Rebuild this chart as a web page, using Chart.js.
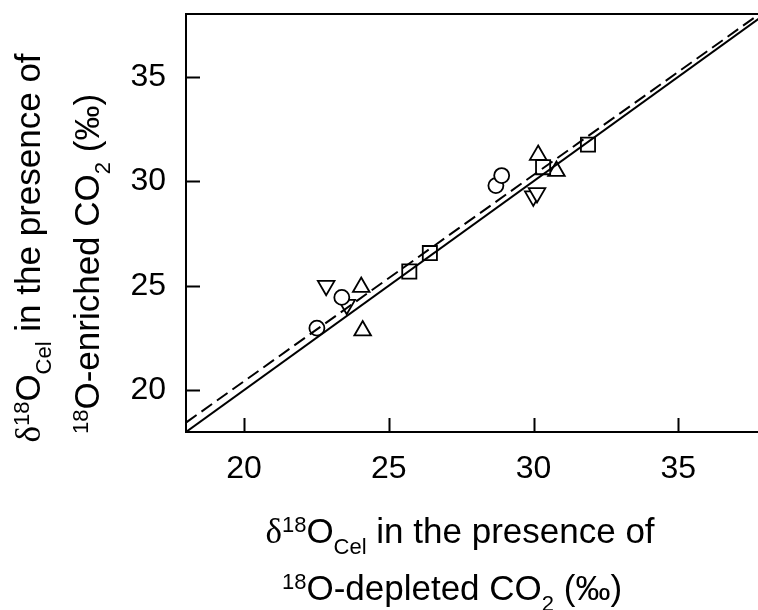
<!DOCTYPE html>
<html>
<head>
<meta charset="utf-8">
<script src="https://cdn.jsdelivr.net/npm/chart.js@4/dist/chart.umd.min.js"></script>
<style>
  html, body { margin: 0; padding: 0; background: #fff; overflow: hidden; }
  #wrap { position: relative; width: 758px; height: 610px; }
</style>
</head>
<body>
<div id="wrap"><canvas id="chart-0" width="758" height="610"></canvas></div>
<script>
// data (x = depleted CO2, y = enriched CO2)
var circleX = [22.52, 23.38, 28.70, 28.90];
var circleY = [22.97, 24.44, 29.79, 30.27];
var squareX = [25.71, 26.42, 30.33, 31.88];
var squareY = [25.68, 26.56, 30.67, 31.75];
var upX = [24.05, 24.10, 30.16, 30.79];
var upY = [24.93, 22.85, 31.25, 30.48];
var downX = [22.84, 23.55, 29.99, 30.12];
var downY = [25.00, 24.09, 29.28, 29.44];

// 1:1 line and the fitted (dashed) line, as end points
var oneToOneX = [18, 38];
var oneToOneY = [18, 38];
var fitX = [18, 37.75];
var fitY = [18.45, 37.95];

var tickValues = [20, 25, 30, 35];
var axisMin = 18, xMax = 37.75, yMax = 38;

function pts(xs, ys) { // zip two arrays into {x,y} objects
  return xs.map(function(x, i) { return { x: x, y: ys[i] }; });
}

var SANS = '"Liberation Sans", Arial, Helvetica, sans-serif';
var SERIF = '"Liberation Serif", "Times New Roman", serif';

document.addEventListener("DOMContentLoaded", function() {

  function marker(label, xs, ys, style, r, rot) {
    return {
      label: label,
      data: pts(xs, ys),
      pointStyle: style,
      pointRadius: r,
      rotation: rot || 0,
      pointBackgroundColor: '#fff',
      pointBorderColor: '#000',
      pointBorderWidth: 1.8,
      showLine: false
    };
  }

  // text pieces with sup/subscripts, centred on cx along the baseline y
  function richText(ctx, parts, cx, y) {
    var w = 0;
    parts.forEach(function(p) {
      ctx.font = p.size + 'px ' + (p.serif ? SERIF : SANS);
      w += ctx.measureText(p.t).width;
    });
    var x = cx - w / 2;
    parts.forEach(function(p) {
      ctx.font = p.size + 'px ' + (p.serif ? SERIF : SANS);
      ctx.fillText(p.t, x, y + (p.dy || 0));
      x += ctx.measureText(p.t).width;
    });
  }

  var T = 35, S = 22; // title font and sup/sub font sizes
  var xTitle1 = [{t: 'δ', size: T, serif: true}, {t: '18', size: S, dy: -11}, {t: 'O', size: T},
                 {t: 'Cel', size: S, dy: 11}, {t: ' in the presence of', size: T}];
  var xTitle2 = [{t: '18', size: S, dy: -11}, {t: 'O-depleted CO', size: T},
                 {t: '2', size: S, dy: 11}, {t: ' (‰)', size: T}];
  var yTitle1 = xTitle1;
  var yTitle2 = [{t: '18', size: S, dy: -11}, {t: 'O-enriched CO', size: T},
                 {t: '2', size: S, dy: 11}, {t: ' (‰)', size: T}];

  var framePlugin = {
    id: 'frame',
    afterDraw: function(chart) {
      var ctx = chart.ctx, a = chart.chartArea;
      var xs = chart.scales.x, ys = chart.scales.y;
      ctx.save();
      ctx.strokeStyle = '#000';
      ctx.lineWidth = 2;
      ctx.beginPath();
      // top border
      ctx.moveTo(a.left - 1, a.top);
      ctx.lineTo(chart.width, a.top);
      // inward tick marks
      tickValues.forEach(function(v) {
        var px = Math.round(xs.getPixelForValue(v)) + 0.5;
        ctx.moveTo(px, a.bottom);
        ctx.lineTo(px, a.bottom - 14);
        var py = Math.round(ys.getPixelForValue(v)) + 0.5;
        ctx.moveTo(a.left, py);
        ctx.lineTo(a.left + 14, py);
      });
      ctx.stroke();

      // axis titles
      ctx.fillStyle = '#000';
      ctx.textBaseline = 'alphabetic';
      ctx.textAlign = 'left';
      richText(ctx, xTitle1, 460, a.bottom + 111);
      richText(ctx, xTitle2, 452, a.bottom + 168);
      ctx.translate(40, 248);
      ctx.rotate(-Math.PI / 2);
      richText(ctx, yTitle1, 0, 0);
      richText(ctx, yTitle2, -16, 59);
      ctx.restore();
    }
  };

  function noPad(s) {
    s.paddingTop = 0; s.paddingBottom = 0; s.paddingLeft = 0; s.paddingRight = 0;
  }

  var chart0 = new Chart(document.getElementById('chart-0'), {
    type: 'scatter',
    data: {
      datasets: [
        { label: '1:1', data: pts(oneToOneX, oneToOneY), showLine: true, borderColor: '#000',
          borderWidth: 2, pointRadius: 0, fill: false },
        { label: 'fit', data: pts(fitX, fitY), showLine: true, borderColor: '#000',
          borderWidth: 2, borderDash: [13, 6], pointRadius: 0, fill: false },
        marker('circle', circleX, circleY, 'circle', 7.5),
        marker('square', squareX, squareY, 'rect', 10),
        marker('up', upX, upY, 'triangle', 9.6),
        marker('down', downX, downY, 'triangle', 9.6, 180)
      ]
    },
    options: {
      responsive: false,
      animation: false,
      events: [],
      layout: { autoPadding: false, padding: { top: 14, left: 0, right: 0, bottom: 0 } },
      plugins: { legend: { display: false }, tooltip: { enabled: false } },
      scales: {
        x: {
          type: 'linear', min: axisMin, max: xMax,
          grid: { display: true, drawOnChartArea: false, drawTicks: false },
          border: { display: true, color: '#000', width: 2 },
          ticks: { color: '#000', padding: 18, font: { family: SANS, size: 32 } },
          afterBuildTicks: function(s) { s.ticks = tickValues.map(function(v) { return { value: v }; }); },
          afterFit: function(s) { s.height = 610 - 432; noPad(s); }
        },
        y: {
          type: 'linear', min: axisMin, max: yMax,
          grid: { display: true, drawOnChartArea: false, drawTicks: false },
          border: { display: true, color: '#000', width: 2 },
          ticks: { color: '#000', padding: 20, font: { family: SANS, size: 32 } },
          afterBuildTicks: function(s) { s.ticks = tickValues.map(function(v) { return { value: v }; }); },
          afterFit: function(s) { s.width = 186; noPad(s); }
        }
      }
    },
    plugins: [framePlugin]
  });

});
</script>
</body>
</html>
